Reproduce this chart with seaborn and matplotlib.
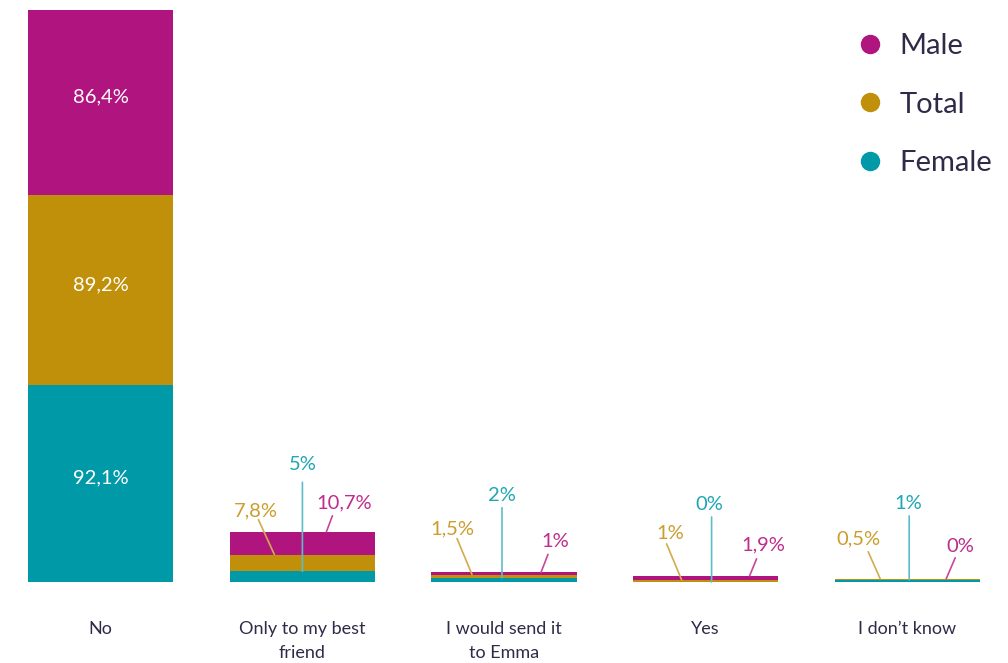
import matplotlib
matplotlib.use("Agg")
import matplotlib.pyplot as plt
from matplotlib.lines import Line2D
from matplotlib.transforms import offset_copy
import seaborn as sns
import pandas as pd

# Survey answers and shares (%) per group
categories = ["No", "Only to my best\nfriend", "I would send it\nto Emma", "Yes", "I don\u2019t know"]
female = [92.1, 5, 2, 0, 1]
total = [89.2, 7.8, 1.5, 1, 0.5]
male = [86.4, 10.7, 1, 1.9, 0]

female_lbl = ["92,1%", "5%", "2%", "0%", "1%"]
total_lbl = ["89,2%", "7,8%", "1,5%", "1%", "0,5%"]
male_lbl = ["86,4%", "10,7%", "1%", "1,9%", "0%"]

C_MALE, C_TOTAL, C_FEMALE = "#B0157F", "#C0900A", "#0099A8"
T_MALE, T_TOTAL, T_FEMALE = "#BE2C8C", "#CB9E2C", "#1FA6B5"
L_MALE, L_TOTAL, L_FEMALE = "#C8479B", "#D3AB4C", "#5CBDC8"
INK = "#2E2B48"

sns.set_theme(style="white")
plt.rcParams["font.family"] = ["Lato", "DejaVu Sans"]

df = pd.DataFrame({"answer": categories, "female": female, "total": total, "male": male})
df["cum_total"] = df["female"] + df["total"]
df["cum_male"] = df["cum_total"] + df["male"]

fig = plt.figure(figsize=(10.08, 6.63), dpi=100)
ax = fig.add_axes([0, 81 / 663, 1, 572 / 663])

# Stacked bars: draw cumulative heights back to front
for col, color in [("cum_male", C_MALE), ("cum_total", C_TOTAL), ("female", C_FEMALE)]:
    sns.barplot(data=df, x="answer", y=col, color=color, width=0.72,
                linewidth=0, saturation=1, ax=ax, order=categories)

ax.set_xlim(-0.5, 4.5)
ax.set_ylim(0, df["cum_male"].iloc[0])
ax.set_xlabel("")
ax.set_ylabel("")
ax.set_yticks([])
for s in ax.spines.values():
    s.set_visible(False)
ax.tick_params(axis="x", length=0, pad=28, labelsize=13, labelcolor=INK)
for t in ax.get_xticklabels():
    t.set_linespacing(1.62)

# White labels inside the large bar
i = 0
mids = [female[i] / 2, female[i] + total[i] / 2, female[i] + total[i] + male[i] / 2]
for m, txt in zip(mids, [female_lbl[i], total_lbl[i], male_lbl[i]]):
    ax.text(i, m, txt, color="white", fontsize=14.5, ha="center", va="baseline")

# Leader-line placement for the small bars, in pixels relative to
# (bar centre, segment top): line foot dx, line head (dx, dy), label (dx, dy)
layout = {
    1: {"f": (0, (0, 89), (0, 108)), "t": (-28, (-44, 35), (-47, 45)), "m": (24, (30, 16), (42, 30))},
    2: {"f": (-2, (-2, 70), (-2, 84)), "t": (-32, (-47, 36), (-52, 47)), "m": (37, (44, 18), (51, 32))},
    3: {"f": (6, (6, 65), (4, 79)), "t": (-24, (-39, 36), (-35, 48)), "m": (44, (51, 17), (58, 32))},
    4: {"f": (2, (2, 64), (1, 78)), "t": (-27, (-39, 27), (-49, 41)), "m": (39, (48, 21), (53, 34))},
}


def leader(i, top, spec, text, tcolor, lcolor):
    foot, head, lab = spec
    base = offset_copy(ax.transData, fig=fig, x=foot, y=0, units="dots")
    ax.annotate("", xy=(i, top), xycoords=base,
                xytext=(head[0] - foot, head[1]), textcoords="offset pixels",
                arrowprops=dict(arrowstyle="-", color=lcolor, lw=1.2,
                                shrinkA=0, shrinkB=0), zorder=5)
    ax.annotate(text, xy=(i, top), xytext=(lab[0], lab[1] - 7),
                textcoords="offset pixels", color=tcolor, fontsize=14.5,
                ha="center", va="baseline", zorder=6)


for i in range(1, len(categories)):
    f_top = female[i]
    t_top = female[i] + total[i]
    m_top = t_top + male[i]
    leader(i, f_top, layout[i]["f"], female_lbl[i], T_FEMALE, L_FEMALE)
    leader(i, t_top, layout[i]["t"], total_lbl[i], T_TOTAL, L_TOTAL)
    leader(i, m_top, layout[i]["m"], male_lbl[i], T_MALE, L_MALE)

handles = [Line2D([], [], marker="o", linestyle="", markersize=14,
                  markerfacecolor=c, markeredgewidth=0) for c in (C_MALE, C_TOTAL, C_FEMALE)]
leg = ax.legend(handles, ["Male", "Total", "Female"], loc="upper left",
                bbox_to_anchor=(855 / 1008, 1 - 33 / 663), bbox_transform=fig.transFigure,
                frameon=False, fontsize=21, handlelength=1.0, handletextpad=0.52,
                labelspacing=1.12, borderpad=0, borderaxespad=0)
for t in leg.get_texts():
    t.set_color(INK)

fig.savefig("out.png", dpi=100)
